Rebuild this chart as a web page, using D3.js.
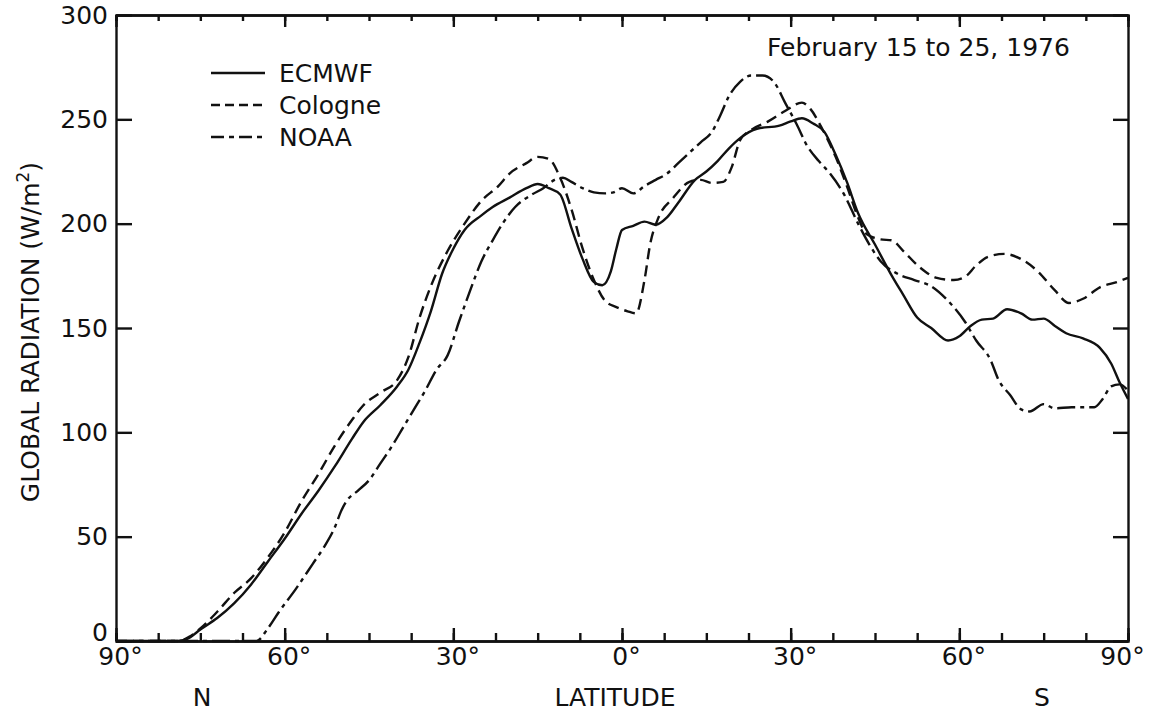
<!DOCTYPE html>
<meta charset="utf-8">
<style>
  body { margin: 0; background: #fff; }
  svg { display: block; }
  text { font-family: "DejaVu Sans", sans-serif; fill: #111; }
</style>
<body>
<div id="chart"></div>
<script src="https://d3js.org/d3.v7.min.js"></script>
<script>
  // latitude (positive = N, negative = S), global radiation in W/m2
  const ecmwf = [[90,0],[79,0],[77,1.5],[75,5.5],[72,11],[69,18],[66,27],[63,38],[60,49],[57,61],[54,72],
    [51,84],[48,97],[46,105],[43,113],[40,122],[38,130],[36,143],[34,158],[32,176],[30,188],[28,197],
    [25,204],[23,208],[20,212.5],[17,217],[15,219],[13,217],[11,214],[9,198],[7,183],[5,172],[3.5,170.5],
    [2,177],[1,188],[0,197],[-2,199],[-4,201],[-6,199.5],[-8,203],[-10,210],[-13,221],[-15,225],[-17,230],
    [-19,236],[-21,241],[-24,245.5],[-28,247],[-30,249],[-32,250.5],[-34,248],[-36,244],[-38,233],[-40,220],
    [-42,205],[-45,190],[-48,175],[-50,166],[-52.5,155],[-55,150],[-58,144],[-60,146],[-62,151],[-64,154],
    [-66,154.5],[-68.5,159],[-71,157],[-73,154],[-75,154.5],[-77,151],[-79,147.5],[-82,145],[-85,140.5],
    [-87,133],[-88.5,124],[-90,116]];

  const cologne = [[90,0],[79,0],[77,2],[75,6],[72,14],[69,23],[66,30],[63,40],[60,52],[57,67],[54,80],
    [51,94],[48,106],[46,113],[43,119],[40,125],[38,136],[36,155],[34,170],[31,187],[28,200],[25,211],
    [22,218],[20,224],[17,229],[15,232],[13,231],[11,222],[9,207],[7,188],[5,173],[3,163],[1,160],[-1,158],
    [-2.5,157],[-4,173],[-5,190],[-6.5,203],[-9,212],[-12,220],[-14,221],[-16,219.5],[-18,220],[-19.5,227],
    [-21,240],[-23,245],[-26,249],[-29,254],[-32,258],[-33.5,255],[-35.5,246],[-38,232],[-40,218],[-42,203],
    [-43.5,195],[-46,192.5],[-48,192],[-50,187],[-53,179],[-56,174],[-59,173],[-61,174.5],[-63,180],
    [-65,184],[-68,185.5],[-71,183],[-74,177],[-77,168],[-79.5,162],[-82,164],[-85,169.5],[-88,172],[-90,174]];

  const noaa = [[90,0],[65,0],[63,6],[61,14],[58,25],[55,37],[53,45],[51,55],[50,62],[49,67],[47,72],
    [45,77],[43,85],[41,93],[39,102],[37,111],[35,120],[33,130],[31,137],[29,153],[27,168],[25,182],
    [23,192],[21,201],[19,208],[16,214],[14,217],[12,221],[10.5,222],[9,220],[7,217],[5,215],[3,214.5],
    [1.5,215],[0,217],[-2,214.5],[-4,218],[-6,221],[-8,224],[-10,229],[-12,234],[-14,239],[-16,244],
    [-17.5,252],[-19,261],[-21,268],[-23,271],[-25,271],[-27,268],[-29,258],[-31,248],[-33,237],[-35,230],
    [-37,224],[-39.5,214],[-42,200],[-44,190],[-46,182],[-49,176],[-52,173],[-55,170],[-58,163],[-61,153],
    [-63,144],[-65.5,135],[-67,125],[-69,118],[-71,111],[-72.5,110],[-75,113.5],[-77,111.5],[-80,112],
    [-84,112],[-85.5,116],[-87,122],[-88.5,123],[-90,120]];

  const series = [
    { name: "ECMWF", data: ecmwf, dash: null },
    { name: "Cologne", data: cologne, dash: "11,6" },
    { name: "NOAA", data: noaa, dash: "18,5,4,5" }
  ];

  const latTicks = [90, 60, 30, 0, -30, -60, -90];
  const latMinor = d3.range(90, -90.1, -7.5);
  const radTicks = [0, 50, 100, 150, 200, 250, 300];

  const width = 1153, height = 715;
  const svg = d3.select("#chart").append("svg")
    .attr("width", width).attr("height", height);

  const x = d3.scaleLinear().domain([90, -90]).range([116, 1128]);
  const y = d3.scaleLinear().domain([0, 300]).range([641, 15]);

  const fs = 25;

  function styleAxis(g) {
    g.selectAll("path, line").attr("stroke", "#111").attr("stroke-width", 2.4);
    g.selectAll("text").attr("font-size", fs).attr("fill", "#111")
      .attr("font-family", "DejaVu Sans, sans-serif");
  }

  // bottom axis: minor then major ticks, pointing inward
  svg.append("g").attr("transform", `translate(0,${y(0)})`)
    .call(d3.axisBottom(x).tickValues(latMinor).tickSize(-8).tickFormat(""))
    .call(styleAxis);
  svg.append("g").attr("transform", `translate(0,${y(0)})`)
    .call(d3.axisBottom(x).tickValues(latTicks).tickSizeInner(-13).tickSizeOuter(0)
      .tickPadding(6).tickFormat(d => Math.abs(d) + "°"))
    .call(styleAxis)
    .call(g => g.selectAll(".tick text").attr("dx", d => d === -90 ? -6 : 4));

  // top axis
  svg.append("g").attr("transform", `translate(0,${y(300)})`)
    .call(d3.axisTop(x).tickValues(latMinor).tickSize(-6).tickFormat(""))
    .call(styleAxis);
  svg.append("g").attr("transform", `translate(0,${y(300)})`)
    .call(d3.axisTop(x).tickValues(latTicks).tickSizeInner(-12).tickSizeOuter(0).tickFormat(""))
    .call(styleAxis);

  // left axis
  svg.append("g").attr("transform", `translate(${x(90)},0)`)
    .call(d3.axisLeft(y).tickValues(radTicks).tickSizeInner(-16).tickSizeOuter(0).tickPadding(8))
    .call(styleAxis)
    .call(g => g.selectAll(".tick text").filter(d => d === 0).attr("y", -9));

  // right axis
  svg.append("g").attr("transform", `translate(${x(-90)},0)`)
    .call(d3.axisRight(y).tickValues(radTicks).tickSizeInner(-15).tickSizeOuter(0).tickFormat(""))
    .call(styleAxis);

  // curves
  const line = d3.line()
    .x(d => x(d[0]))
    .y(d => y(d[1]))
    .curve(d3.curveMonotoneX);

  svg.append("g").selectAll("path")
    .data(series)
    .join("path")
    .attr("d", d => line(d.data))
    .attr("fill", "none")
    .attr("stroke", "#111")
    .attr("stroke-width", 2.4)
    .attr("stroke-dasharray", d => d.dash);

  // legend
  const legend = svg.append("g").attr("transform", "translate(211,73)");
  const legendDash = [null, "9,5", "13,5,5,5"];
  series.forEach((s, i) => {
    const row = legend.append("g").attr("transform", `translate(0,${i * 32})`);
    row.append("line").attr("x1", 0).attr("x2", 54).attr("y1", 0).attr("y2", 0)
      .attr("stroke", "#111").attr("stroke-width", 2.4)
      .attr("stroke-dasharray", legendDash[i]);
    row.append("text").attr("x", 68).attr("y", 0).attr("dy", "0.36em")
      .attr("font-size", fs).text(s.name);
  });

  // title
  svg.append("text").attr("x", 767).attr("y", 47).attr("dy", "0.36em")
    .attr("font-size", fs).text("February 15 to 25, 1976");

  // axis titles
  svg.append("text").attr("x", 615).attr("y", 697).attr("dy", "0.36em")
    .attr("text-anchor", "middle").attr("font-size", fs).text("LATITUDE");
  svg.append("text").attr("x", 202).attr("y", 697).attr("dy", "0.36em")
    .attr("text-anchor", "middle").attr("font-size", fs).text("N");
  svg.append("text").attr("x", 1042).attr("y", 697).attr("dy", "0.36em")
    .attr("text-anchor", "middle").attr("font-size", fs).text("S");

  const yt = svg.append("text")
    .attr("transform", "translate(30,332) rotate(-90)")
    .attr("text-anchor", "middle").attr("dy", "0.36em").attr("font-size", fs);
  yt.append("tspan").text("GLOBAL RADIATION (W/m");
  yt.append("tspan").attr("baseline-shift", "super").attr("font-size", 17).text("2");
  yt.append("tspan").text(")");
</script>
</body>
